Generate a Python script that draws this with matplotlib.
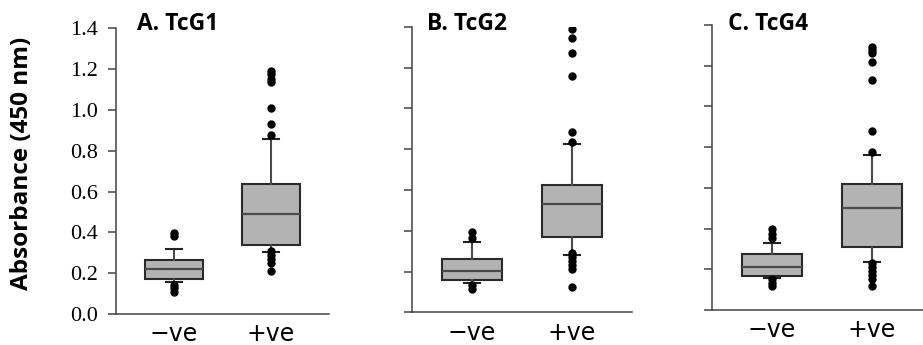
import matplotlib.pyplot as plt

# groups on the x axis and panel titles
groups = ["\u2212ve", "+ve"]
titles = ["A. TcG1", "B. TcG2", "C. TcG4"]

# box statistics, per panel: [-ve, +ve]
q1 = [[0.170, 0.338], [0.158, 0.370], [0.169, 0.308]]
med = [[0.219, 0.490], [0.202, 0.531], [0.210, 0.503]]
q3 = [[0.265, 0.635], [0.260, 0.624], [0.275, 0.617]]
whislo = [[0.158, 0.305], [0.145, 0.281], [0.156, 0.234]]
whishi = [[0.318, 0.859], [0.343, 0.825], [0.328, 0.761]]

# outliers
fliers = [
    [[0.395, 0.38, 0.14, 0.125, 0.11],
     [1.19, 1.175, 1.15, 1.135, 1.01, 0.93, 0.875, 0.31, 0.29, 0.27, 0.25, 0.21]],
    [[0.395, 0.365, 0.134, 0.115],
     [1.387, 1.345, 1.272, 1.158, 0.882, 0.833, 0.29, 0.27, 0.25, 0.23, 0.21, 0.122]],
    [[0.40, 0.375, 0.355, 0.15, 0.135, 0.12],
     [1.293, 1.277, 1.264, 1.22, 1.13, 0.879, 0.775, 0.23, 0.21, 0.19, 0.17, 0.15, 0.12]],
]

yticks = [0.0, 0.2, 0.4, 0.6, 0.8, 1.0, 1.2, 1.4]

W, H = 923, 345
fig = plt.figure(figsize=(W / 100, H / 100), dpi=100)

# axes rectangles in pixels: left, right, bottom(y=0), top(y=1.4)
rects = [(115.7, 329.0, 314.0, 28.3), (411.7, 631.7, 312.3, 26.7), (711.7, 931.7, 310.0, 25.0)]
title_px = [137, 427, 728]

for i, (l, r, b, t) in enumerate(rects):
    ax = fig.add_axes([l / W, (H - b) / H, (r - l) / W, (b - t) / H])
    stats = []
    for j in range(2):
        stats.append(dict(med=med[i][j], q1=q1[i][j], q3=q3[i][j],
                          whislo=whislo[i][j], whishi=whishi[i][j],
                          fliers=fliers[i][j]))
    ax.bxp(stats, positions=[1, 2], widths=0.6, capwidths=0.16,
           patch_artist=True, showfliers=True,
           boxprops=dict(facecolor="#b3b3b3", edgecolor="#2a2a2a", linewidth=1.5),
           medianprops=dict(color="#4a4a4a", linewidth=1.6),
           whiskerprops=dict(color="#4a4a4a", linewidth=1.5),
           capprops=dict(color="#222222", linewidth=1.5),
           flierprops=dict(marker="o", markerfacecolor="black",
                           markeredgecolor="black", markersize=5))
    ax.set_xlim(0.4, 2.6)
    ax.set_ylim(0, 1.4)
    ax.set_yticks(yticks)
    ax.set_xticks([1, 2])
    ax.set_xticklabels(groups, fontsize=17, family="DejaVu Sans")
    ax.tick_params(axis="x", length=0, pad=6)
    ax.tick_params(axis="y", length=5.5, width=1.1, color="#444444", pad=7)
    if i == 0:
        ax.set_yticklabels(["%.1f" % v for v in yticks],
                           fontsize=16, family="Liberation Serif")
    else:
        ax.set_yticklabels([])
    for s in ["top", "right"]:
        ax.spines[s].set_visible(False)
    for s in ["left", "bottom"]:
        ax.spines[s].set_linewidth(1.1)
        ax.spines[s].set_color("#444444")
    ax.patch.set_alpha(0)
    fig.text(title_px[i] / W, (H - 30) / H, titles[i],
             fontsize=16.5, fontweight="bold", family="Open Sans",
             ha="left", va="baseline")

fig.text(22 / W, (H - 163) / H, "Absorbance (450 nm)", rotation=90, ha="center",
         va="center", fontsize=17.5, fontweight="bold", family="Open Sans")

fig.savefig("out.png", dpi=100)
